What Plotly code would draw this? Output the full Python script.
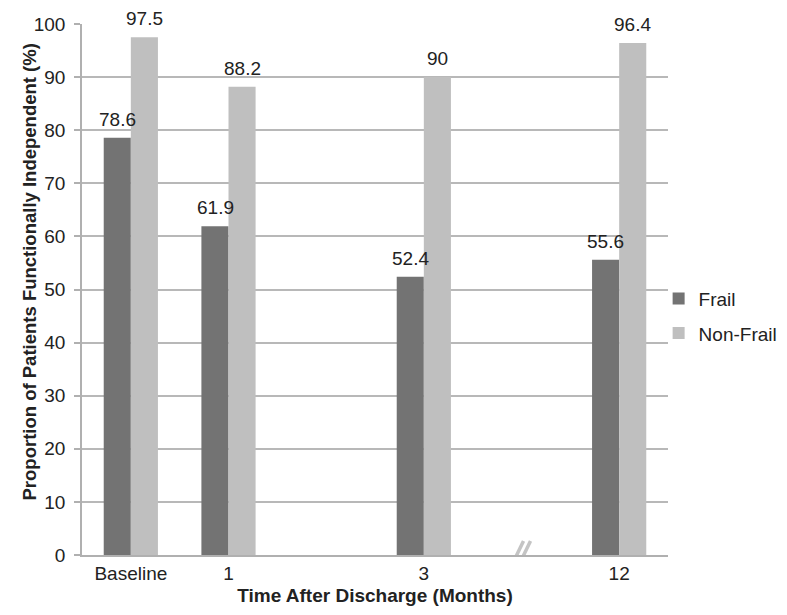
import plotly.graph_objects as go

# Data
categories = ["Baseline", "1", "gap_a", "3", "gap_b", "12"]
tick_labels = ["Baseline", "1", "3", "12"]
data_categories = ["Baseline", "1", "3", "12"]
frail = [78.6, 61.9, 52.4, 55.6]
non_frail = [97.5, 88.2, 90, 96.4]
y_ticks = [0, 10, 20, 30, 40, 50, 60, 70, 80, 90, 100]

FONT = "Liberation Sans, Arial, sans-serif"
TXT = "#222222"
GRID = "#b8b8b8"

fig = go.Figure()
fig.add_trace(go.Bar(x=data_categories, y=frail, name="Frail",
                     marker=dict(color="#737373", line=dict(width=0)),
                     legendgroup="a"))
fig.add_trace(go.Bar(x=data_categories, y=non_frail, name="Non-Frail",
                     marker=dict(color="#bfbfbf", line=dict(width=0)),
                     legendgroup="b"))

annotations = []
for series, shift in ((frail, -13.5), (non_frail, 13.5)):
    for c, v in zip(data_categories, series):
        annotations.append(dict(x=categories.index(c), y=v, xref="x", yref="y",
                                text=f"{v:g}",
                                showarrow=False, xshift=shift, yshift=6,
                                yanchor="bottom",
                                font=dict(family=FONT, size=19, color=TXT)))

annotations.append(dict(text="<b>Proportion of Patients Functionally Independent (%)</b>",
                        textangle=-90, xref="paper", yref="paper",
                        x=0, xshift=-52, xanchor="center",
                        y=0.532, yanchor="middle", showarrow=False,
                        font=dict(family=FONT, size=18.5, color=TXT)))

shapes = []
for dx in (-6, 1):
    shapes.append(dict(type="line", xref="x", yref="y",
                       xsizemode="pixel", ysizemode="pixel",
                       xanchor=categories.index("gap_b"), yanchor=0,
                       x0=dx - 7, x1=dx + 8, y0=-17, y1=14,
                       line=dict(color="#c4c4c4", width=3.5)))

fig.update_layout(
    width=787, height=615,
    margin=dict(l=74, r=127, t=16, b=68, autoexpand=False),
    paper_bgcolor="white", plot_bgcolor="white",
    barmode="group", bargap=0.445, bargroupgap=0,
    font=dict(family=FONT, size=19, color=TXT),
    showlegend=True,
    legend=dict(x=0.984, y=0.45, xanchor="left", yanchor="middle",
                traceorder="grouped", tracegroupgap=7,
                font=dict(family=FONT, size=19, color=TXT),
                bgcolor="rgba(0,0,0,0)"),
    annotations=annotations,
    shapes=shapes,
    xaxis=dict(type="category", categoryorder="array", categoryarray=categories,
               range=[-0.5, 5.5], automargin=False,
               tickmode="array", tickvals=data_categories, ticktext=tick_labels,
               showline=True, linecolor="#b0b0b0", linewidth=1.5,
               showgrid=False, ticks="",
               tickfont=dict(family=FONT, size=19, color=TXT),
               title=dict(text="<b>Time After Discharge (Months)</b>",
                          font=dict(family=FONT, size=19, color=TXT),
                          standoff=6)),
    yaxis=dict(range=[0, 100], tickvals=y_ticks, automargin=False,
               showline=True, linecolor="#b0b0b0", linewidth=1.5,
               showgrid=True, gridcolor=GRID, gridwidth=1.5,
               ticks="outside", ticklen=6, tickcolor="#b0b0b0", tickwidth=1.5,
               ticklabelstandoff=5,
               tickfont=dict(family=FONT, size=19, color=TXT),
               zeroline=False),
)

fig.write_html("out.html")
